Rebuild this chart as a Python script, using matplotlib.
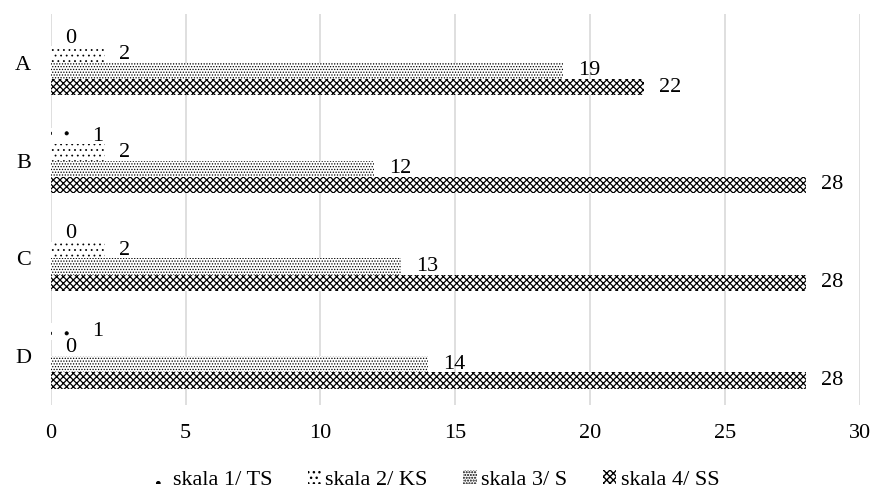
import matplotlib.pyplot as plt
import numpy as np

plt.rcParams['font.family'] = ['Liberation Serif', 'DejaVu Serif']

categories = ["A", "B", "C", "D"]
series = ["skala 1/ TS", "skala 2/ KS", "skala 3/ S", "skala 4/ SS"]
ts = [0, 1, 0, 1]
ks = [2, 2, 2, 0]
s = [19, 12, 13, 14]
ss = [22, 28, 28, 28]
hatches = ['.', '...', '......', 'xxxxx']
hatch_lw = [0.5, 0.55, 0.6, 0.9]

values = [ts, ks, s, ss]
fig = plt.figure(figsize=(8.74, 4.95), dpi=100)
ax = fig.add_axes([0.058, 0.182, 0.926, 0.790])

y = np.arange(len(categories))
h = 0.167
for i, (name, vals, hatch) in enumerate(zip(series, values, hatches)):
    pos = y + (i - 1.5) * h
    with plt.rc_context({'hatch.linewidth': hatch_lw[i]}):
        ax.barh(pos, vals, height=h, color='white', edgecolor='black',
                linewidth=0, hatch=hatch, label=name, zorder=2)
    for yy, v in zip(pos, vals):
        ax.annotate(str(v), (v, yy), xytext=(10.5, 0), textcoords='offset points',
                    ha='left', va='center', fontsize=16)

ax.set_ylim(len(categories) - 0.5, -0.5)
ax.set_xlim(0, 30)
ax.set_xticks(range(0, 31, 5))
ax.set_yticks(y)
ax.set_yticklabels(categories)
ax.tick_params(length=0, labelsize=16)
ax.tick_params(axis='x', pad=14)
ax.tick_params(axis='y', pad=14)
ax.grid(axis='x', color='#d9d9d9', linewidth=1.2, zorder=0)
for sp in ax.spines.values():
    sp.set_visible(False)

fig.legend(loc='center', bbox_to_anchor=(0.5, 0.03), ncol=4, frameon=False,
           fontsize=16, handlelength=0.6, handleheight=0.6, handletextpad=0.2,
           columnspacing=1.6)

fig.savefig('out.png', dpi=100)
